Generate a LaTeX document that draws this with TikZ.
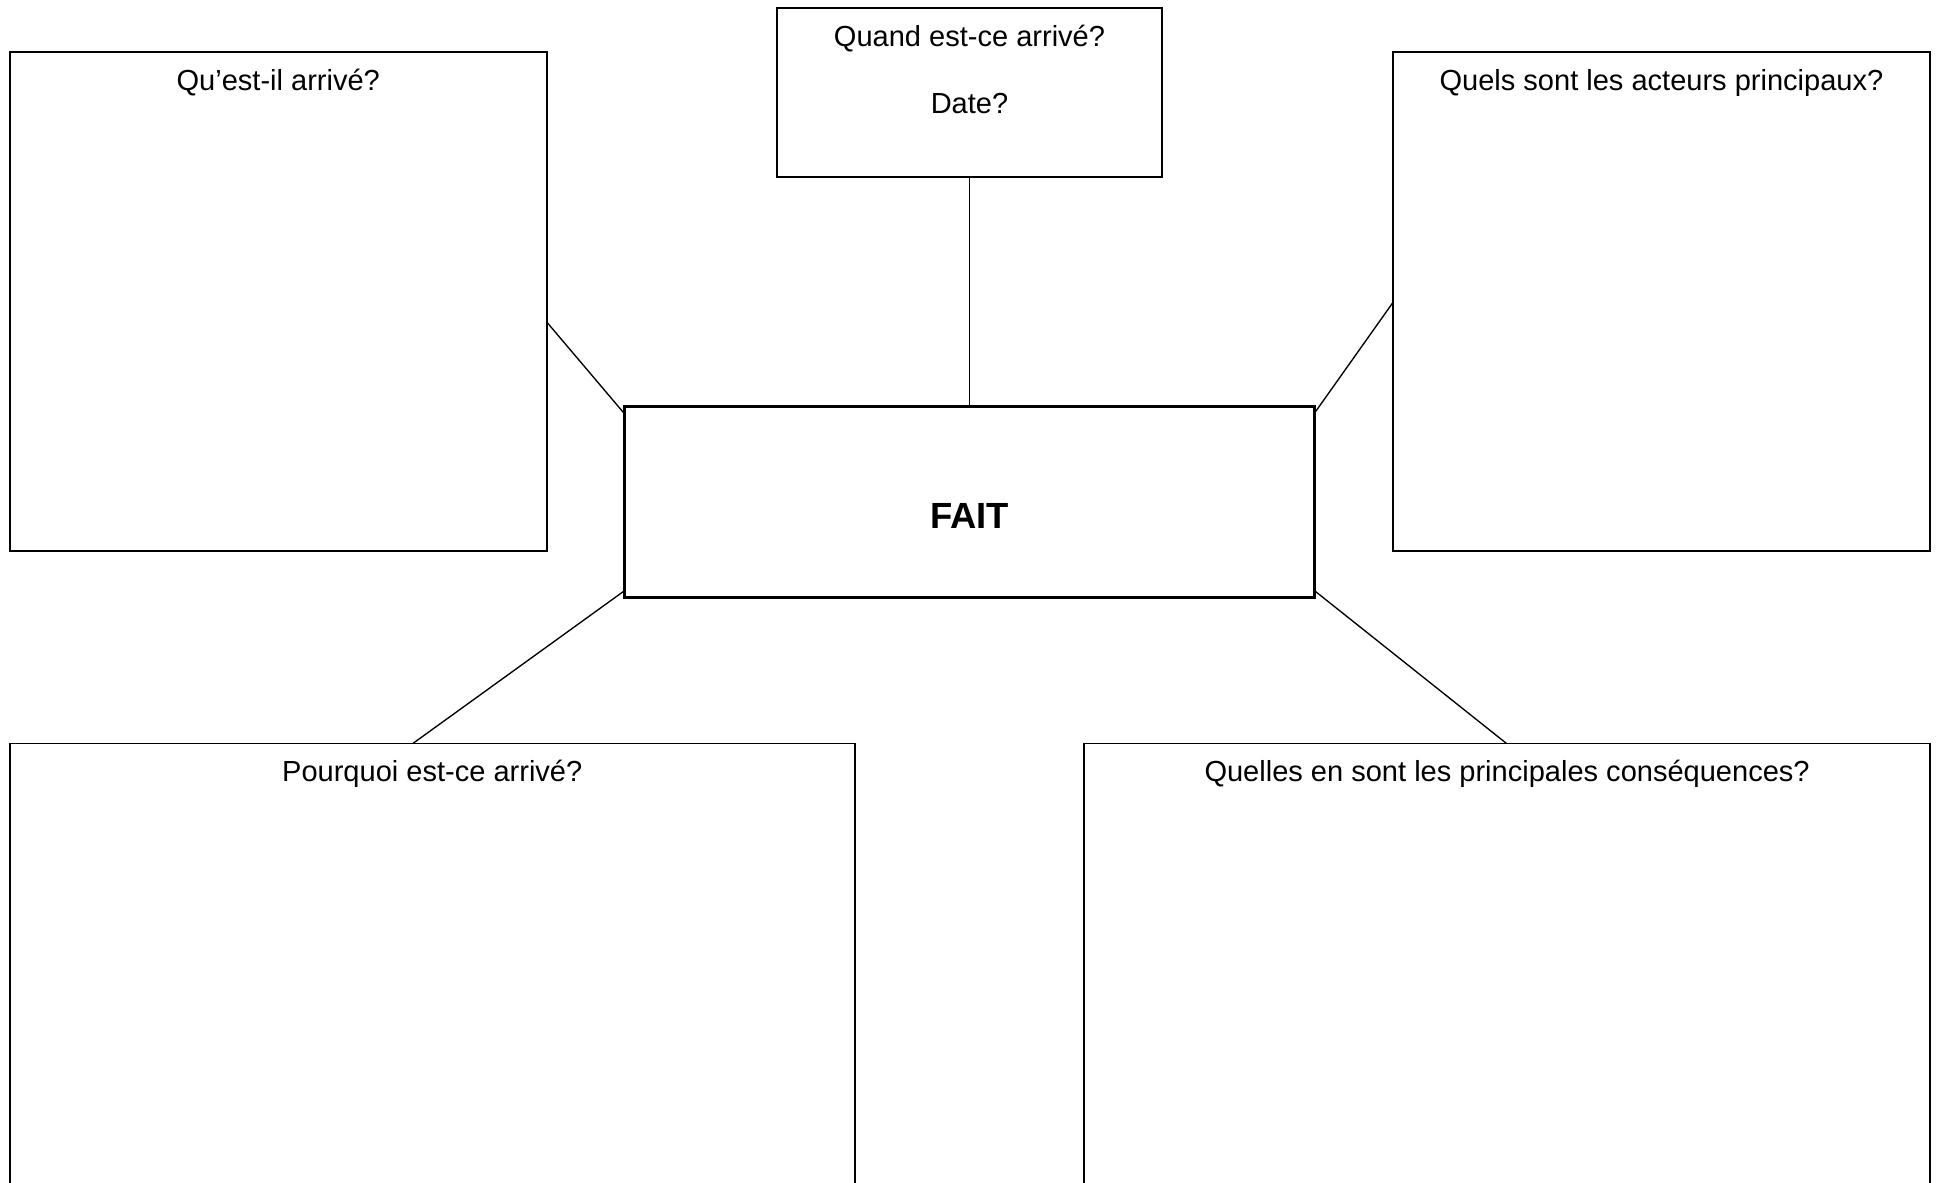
\documentclass[tikz,border=0pt]{standalone}
\usepackage{fontspec}
\setmainfont{Liberation Sans}
\usetikzlibrary{positioning,calc}
\tikzset{
  boite/.style={draw,line width=0.7pt,inner sep=0pt,outer sep=0pt},
  centre/.style={draw,line width=1.2pt,inner sep=0pt,outer sep=0pt},
  titre/.style={anchor=base,inner sep=0pt,font=\fontsize{11.8pt}{14pt}\selectfont},
  gras/.style={anchor=base,inner sep=0pt,font=\fontsize{14.8pt}{17pt}\selectfont\bfseries},
  lien/.style={line width=0.55pt},
}

\begin{document}
\begin{tikzpicture}
  \useasboundingbox (0,0) rectangle (27.7,16.9);
  \clip (0,0) rectangle (27.7,16.9);
  % les cases
  \node[boite,minimum width=7.67cm,minimum height=7.13cm] (quoi) at (3.975,12.595) {};
  \node[boite,minimum width=5.50cm,minimum height=2.415cm] (quand) at (13.85,15.582) {};
  \node[boite,minimum width=7.67cm,minimum height=7.13cm] (qui) at (23.735,12.595) {};
  \node[centre,minimum width=9.86cm,minimum height=2.73cm] (fait) at (13.85,9.725) {};
  \node[boite,minimum width=12.07cm,minimum height=7.28cm] (pourquoi) at (6.175,2.64) {};
  \node[boite,minimum width=12.08cm,minimum height=7.28cm] (consq) at (21.53,2.64) {};
  % les questions
  \node[titre] (quoi-t) at ([yshift=-0.549cm]quoi.north) {Qu’est-il arrivé?};
  \node[titre] (quand-t) at ([yshift=-0.556cm]quand.north) {Quand est-ce arrivé?};
  \node[titre] (date-t) at ([yshift=-0.95cm]quand-t.base) {Date?};
  \node[titre] (qui-t) at ([yshift=-0.549cm]qui.north) {Quels sont les acteurs principaux?};
  \node[titre] (pourquoi-t) at ([yshift=-0.549cm]pourquoi.north) {Pourquoi est-ce arrivé?};
  \node[titre] (consq-t) at ([yshift=-0.549cm]consq.north) {Quelles en sont les principales conséquences?};
  \node[gras] (fait-t) at ([yshift=-0.382cm]fait.center) {FAIT};
  % les liens
  \draw[lien] (quand.south) -- (fait.north);
  \draw[lien] ([yshift=-3.86cm]quoi.north east) -- ([yshift=-0.10cm]fait.north west);
  \draw[lien] ([yshift=-3.58cm]qui.north west) -- ([yshift=-0.09cm]fait.north east);
  \draw[lien] ([yshift=0.10cm]fait.south west) -- ([xshift=5.76cm]pourquoi.north west);
  \draw[lien] ([yshift=0.10cm]fait.south east) -- ([xshift=6.03cm]consq.north west);
\end{tikzpicture}
\end{document}
